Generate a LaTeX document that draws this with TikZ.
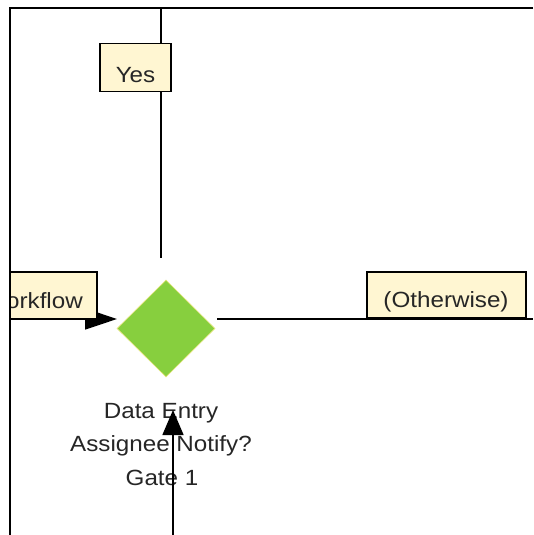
\documentclass[tikz,border=0pt]{standalone}
\usepackage{fontspec}
\setmainfont{Liberation Sans}[FakeStretch=1.1]
\usetikzlibrary{shapes.geometric,arrows.meta}
\definecolor{notefill}{HTML}{FFF6D2}
\definecolor{gatefill}{HTML}{87CF3E}
\definecolor{gateedge}{HTML}{E4E47A}
\tikzset{
  frame/.style={line width=1.8pt, black},
  conn/.style={line width=1.4pt, black},
  arr/.style={conn, -{Triangle[length=#1, width=21pt]}},
  notebox/.style={draw=black, line width=1.1pt, fill=notefill, inner sep=0pt},
  txt/.style={font=\fontsize{22}{26}\selectfont, text=black!85, inner sep=0pt},
}
\begin{document}
\begin{tikzpicture}[x=1pt,y=-1pt]
\useasboundingbox[fill=white] (0,0) rectangle (533,535);
% frame lines
\coordinate (ftr) at (533,8);
\coordinate (ftl) at (10,8);
\coordinate (fbl) at (10,535);
% gateway
\node[diamond, fill=gatefill, draw=gateedge, line width=0.6pt, inner sep=0pt,
      minimum width=98pt, minimum height=97pt] (gate) at (166,328.5) {};
% gateway labels
\node[txt, anchor=base] (gl1) at (161,418) {Data Entry};
\node[txt, anchor=base] (gl2) at (161,451.5) {Assignee Notify?};
\node[txt, anchor=base] (gl3) at (162,485) {Gate 1};
% connectors
\coordinate (ytop) at (161,8);
\coordinate (yend) at (161,258);
\draw[conn] (ytop) -- (yend);
\coordinate (oend) at (533,319);
\coordinate (ostart) at (217,319);
\draw[conn] (ostart) -- (oend);
\coordinate (wstart) at (10,319);
\coordinate (wtip) at (117,319);
\draw[arr=32pt] (wstart) -- (wtip);
\coordinate (bstart) at (173,535);
\coordinate (btip) at (173,410);
\draw[arr=25pt] (bstart) -- (btip);
% labels on connectors
\node[notebox, minimum width=71pt, minimum height=48.5pt] (yesbox) at (135.5,67.5) {};
\node[txt, anchor=base] (yes) at (135.5,82) {Yes};
\node[notebox, minimum width=159pt, minimum height=46pt] (othbox) at (446.5,295) {};
\node[txt, anchor=base] (oth) at (446,307) {(Otherwise)};
\begin{scope}
  \clip (10,0) rectangle (533,535);
  \node[notebox, minimum width=117pt, minimum height=47pt] (wfbox) at (38.5,295.5) {};
  \node[txt, anchor=base east] (wf) at (83,308) {Workflow};
\end{scope}
\draw[frame] (ftr) -- (ftl) -- (fbl);
\end{tikzpicture}
\end{document}
